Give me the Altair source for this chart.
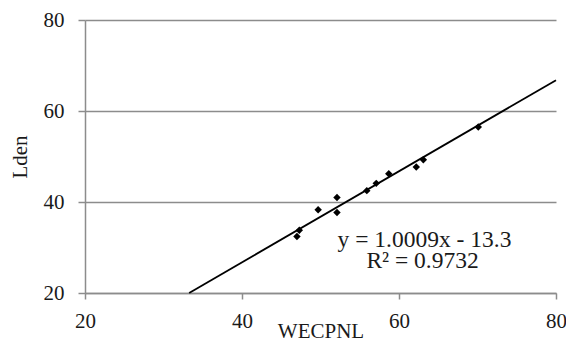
import altair as alt
import pandas as pd

wecpnl = [47.0, 47.3, 49.7, 52.1, 52.1, 55.9, 57.1, 58.7, 62.2, 63.1, 70.1]
lden = [32.4, 33.8, 38.3, 41.0, 37.7, 42.5, 44.1, 46.2, 47.7, 49.3, 56.5]

trend_x = [33.27, 80.0]
trend_y = [20.0, 66.77]

eq_labels = ["y = 1.0009x - 13.3", "R\u00b2 = 0.9732"]
eq_x = [63.25, 63.0]
eq_y = [30.2, 25.5]

ticks = [20, 40, 60, 80]

pts = pd.DataFrame({"WECPNL": wecpnl, "Lden": lden})
trend = pd.DataFrame({"WECPNL": trend_x, "Lden": trend_y})
eq = pd.DataFrame({"WECPNL": eq_x, "Lden": eq_y, "label": eq_labels})

FONT = "Liberation Serif, Times New Roman, Times, serif"
GRID = "#8c8c8c"

xs = alt.Scale(domain=[20, 80], nice=False)
ys = alt.Scale(domain=[20, 80], nice=False)

xaxis = alt.Axis(values=ticks, title="WECPNL", grid=False, tickSize=6,
                 labelPadding=11, labelFlush=False,
                 titleY=44, titleBaseline="alphabetic")
yaxis = alt.Axis(values=ticks, title="Lden", grid=True, tickSize=7,
                 labelPadding=14, titlePadding=13, labelFlush=False)

points = alt.Chart(pts).mark_point(shape="diamond", filled=True, color="black",
                                   size=55, opacity=1).encode(
    x=alt.X("WECPNL:Q", scale=xs, axis=xaxis),
    y=alt.Y("Lden:Q", scale=ys, axis=yaxis),
)

line = alt.Chart(trend).mark_line(color="black", strokeWidth=1.8).encode(
    x=alt.X("WECPNL:Q", scale=xs),
    y=alt.Y("Lden:Q", scale=ys),
)

text = alt.Chart(eq).mark_text(font=FONT, fontSize=23.5, color="#1a1a1a",
                               align="center", baseline="alphabetic").encode(
    x=alt.X("WECPNL:Q", scale=xs),
    y=alt.Y("Lden:Q", scale=ys),
    text="label:N",
)

chart = alt.layer(points, line, text).properties(
    width=471, height=273,
    padding={"left": 77, "top": 12, "right": 10, "bottom": 47},
    autosize=alt.AutoSizeParams(type="none"),
).configure_view(stroke=None).configure_axis(
    labelFont=FONT, titleFont=FONT, labelFontSize=21, titleFontSize=21,
    labelColor="#1a1a1a", titleColor="#1a1a1a", titleFontWeight="normal",
    domainColor=GRID, tickColor=GRID, gridColor=GRID,
    domainWidth=1.5, tickWidth=1.5, gridWidth=1.5, gridOpacity=1,
)

chart.save("out.html", embed_options={"renderer": "svg", "actions": False})
